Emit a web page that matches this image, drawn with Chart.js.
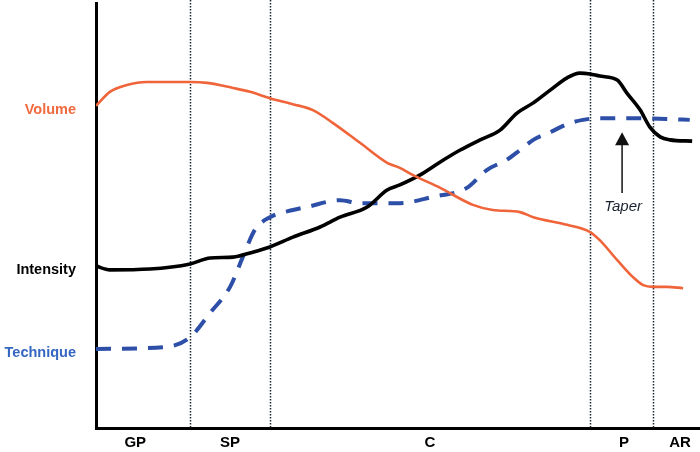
<!DOCTYPE html>
<html>
<head>
<meta charset="utf-8">
<script src="https://cdn.jsdelivr.net/npm/chart.js@4/dist/chart.umd.min.js"></script>
<style>
  html, body { margin: 0; padding: 0; background: #fff; }
  #chart { display: block; }
</style>
</head>
<body>
<canvas id="chart" width="700" height="452"></canvas>
<script>
// Fases do ciclo de treino (eixo x em % do ciclo)
const phaseNames = ["GP", "SP", "C", "P", "AR"];
const phaseBounds = [15.6, 28.8, 81.8, 92.2];
const phaseLabelAt = [6.5, 22.2, 55.3, 87.4, 96.7];

// Curvas: [x, y]
const volume = [
    [0, 75.8], [2.3, 79.1], [5.1, 80.7], [8.4, 81.4], [15.6, 81.4], [18.4, 81.2],
    [22.7, 80.0], [25.5, 79.1], [28.8, 77.6], [32.6, 76.2], [35.9, 74.8], [39.2, 71.8],
    [43.7, 67.1], [48.2, 62.4], [50.3, 61.2], [52.5, 59.5], [57.0, 56.5], [62.4, 52.5],
    [65.7, 51.3], [70.2, 50.8], [72.4, 49.6], [78.0, 47.8], [81.8, 46.1], [83.4, 44.2],
    [86.3, 39.5], [88.9, 35.5], [90.6, 33.6], [92.2, 33.2], [94.5, 33.2], [97.2, 32.9]
];
const intensity = [
    [0, 38.1], [2.3, 37.2], [8.9, 37.4], [15.6, 38.6], [18.9, 40.0], [22.7, 40.2],
    [25.5, 41.2], [28.8, 42.6], [32.6, 44.9], [37.1, 47.3], [40.4, 49.6], [44.9, 52.0],
    [48.2, 56.0], [50.3, 57.2], [53.6, 59.5], [57.0, 62.6], [60.3, 65.4], [63.6, 67.8],
    [66.9, 70.1], [69.7, 74.1], [72.4, 76.5], [75.2, 79.5], [78.0, 82.4], [80.1, 83.5],
    [81.8, 83.3], [83.4, 82.8], [86.3, 81.9], [87.9, 78.8], [90.1, 74.8], [91.7, 70.8],
    [93.4, 68.5], [95.0, 67.8], [98.7, 67.5]
];
const technique = [
    [0, 18.6], [11.8, 19.1], [15.6, 21.4], [18.9, 27.1], [22.2, 33.2], [24.3, 40.2],
    [26.3, 46.6], [28.8, 49.6], [32.6, 51.3], [34.9, 52.0], [40.4, 53.6], [43.7, 52.9],
    [50.3, 52.9], [55.8, 54.4], [61.4, 56.5], [64.7, 60.7], [68.0, 63.1], [70.2, 65.4],
    [72.4, 67.8], [75.2, 69.6], [78.0, 71.5], [80.6, 72.5], [83.4, 72.9], [88.9, 72.9],
    [94.5, 72.7], [98.3, 72.5]
];

// Anotação "Taper"
const taper = { x: 87.1, from: 55.3, to: 69.6, textY: 52.0 };

const toPoints = (arr) => arr.map(p => ({ x: p[0], y: p[1] }));

const colors = {
    volume: "#f0643a",
    intensity: "#000000",
    technique: "#2d4fa8",
};

// Plugin para linhas das fases, rótulos da esquerda e seta
const extras = {
    id: "extras",
    beforeDatasetsDraw(chart) {
        const ctx = chart.ctx, x = chart.scales.x, area = chart.chartArea;
        ctx.save();
        ctx.strokeStyle = "#1c2832";
        ctx.lineWidth = 1.5;
        ctx.setLineDash([1.5, 1.5]);
        phaseBounds.forEach(b => {
            const px = Math.round(x.getPixelForValue(b)) + 0.5;
            ctx.beginPath();
            ctx.moveTo(px, 0);
            ctx.lineTo(px, area.bottom);
            ctx.stroke();
        });
        ctx.restore();
    },
    afterDraw(chart) {
        const ctx = chart.ctx, x = chart.scales.x, y = chart.scales.y;
        ctx.save();
        // rótulos das séries
        ctx.font = "bold 14.5px 'Liberation Sans', Arial, sans-serif";
        ctx.textAlign = "right";
        ctx.textBaseline = "middle";
        chart.data.datasets.forEach(ds => {
            ctx.fillStyle = ds.labelColor;
            ctx.fillText(ds.label, 76, y.getPixelForValue(ds.data[0].y) + 4);
        });

        // seta do taper
        const ax = x.getPixelForValue(taper.x);
        const yTip = y.getPixelForValue(taper.to);
        const yTail = y.getPixelForValue(taper.from);
        ctx.strokeStyle = "#111";
        ctx.fillStyle = "#111";
        ctx.lineWidth = 1.5;
        ctx.beginPath();
        ctx.moveTo(ax, yTail);
        ctx.lineTo(ax, yTip + 10);
        ctx.stroke();
        ctx.beginPath();
        ctx.moveTo(ax, yTip);
        ctx.lineTo(ax - 7, yTip + 13);
        ctx.lineTo(ax + 7, yTip + 13);
        ctx.closePath();
        ctx.fill();

        ctx.font = "italic 15px 'Liberation Sans', Arial, sans-serif";
        ctx.textAlign = "center";
        ctx.fillStyle = "#1a2230";
        ctx.fillText("Taper", ax + 1, y.getPixelForValue(taper.textY));
        ctx.restore();
    },
};

new Chart(document.getElementById("chart"), {
    type: "line",
    plugins: [extras],
    data: {
        datasets: [
            {
                label: "Volume",
                labelColor: "#f26a3f",
                data: toPoints(volume),
                borderColor: colors.volume,
                borderWidth: 2.6,
            },
            {
                label: "Intensity",
                labelColor: "#000000",
                data: toPoints(intensity),
                borderColor: colors.intensity,
                borderWidth: 3.6,
            },
            {
                label: "Technique",
                labelColor: "#3566c0",
                data: toPoints(technique),
                borderColor: colors.technique,
                borderWidth: 4,
                borderDash: [15, 11],
            },
        ],
    },
    options: {
        responsive: false,
        animation: false,
        layout: { padding: { left: 96, right: 0, top: 3, bottom: -6 } },
        elements: {
            point: { radius: 0 },
            line: { tension: 0.4, cubicInterpolationMode: "monotone", fill: false },
        },
        plugins: {
            legend: { display: false },
            tooltip: { enabled: false },
        },
        scales: {
            x: {
                type: "linear",
                min: 0,
                max: 100,
                grid: { display: false, drawTicks: false },
                border: { display: true, color: "#000", width: 3 },
                afterBuildTicks: (scale) => {
                    scale.ticks = phaseLabelAt.map(v => ({ value: v }));
                },
                ticks: {
                    autoSkip: false,
                    maxRotation: 0,
                    padding: 6,
                    color: "#000",
                    font: { family: "'Liberation Sans', Arial, sans-serif", size: 15, weight: "bold" },
                    callback: (value, index) => phaseNames[index],
                },
            },
            y: {
                min: 0,
                max: 100,
                grid: { display: false, drawTicks: false },
                border: { display: true, color: "#000", width: 3 },
                ticks: { display: false },
            },
        },
    },
});
</script>
</body>
</html>
